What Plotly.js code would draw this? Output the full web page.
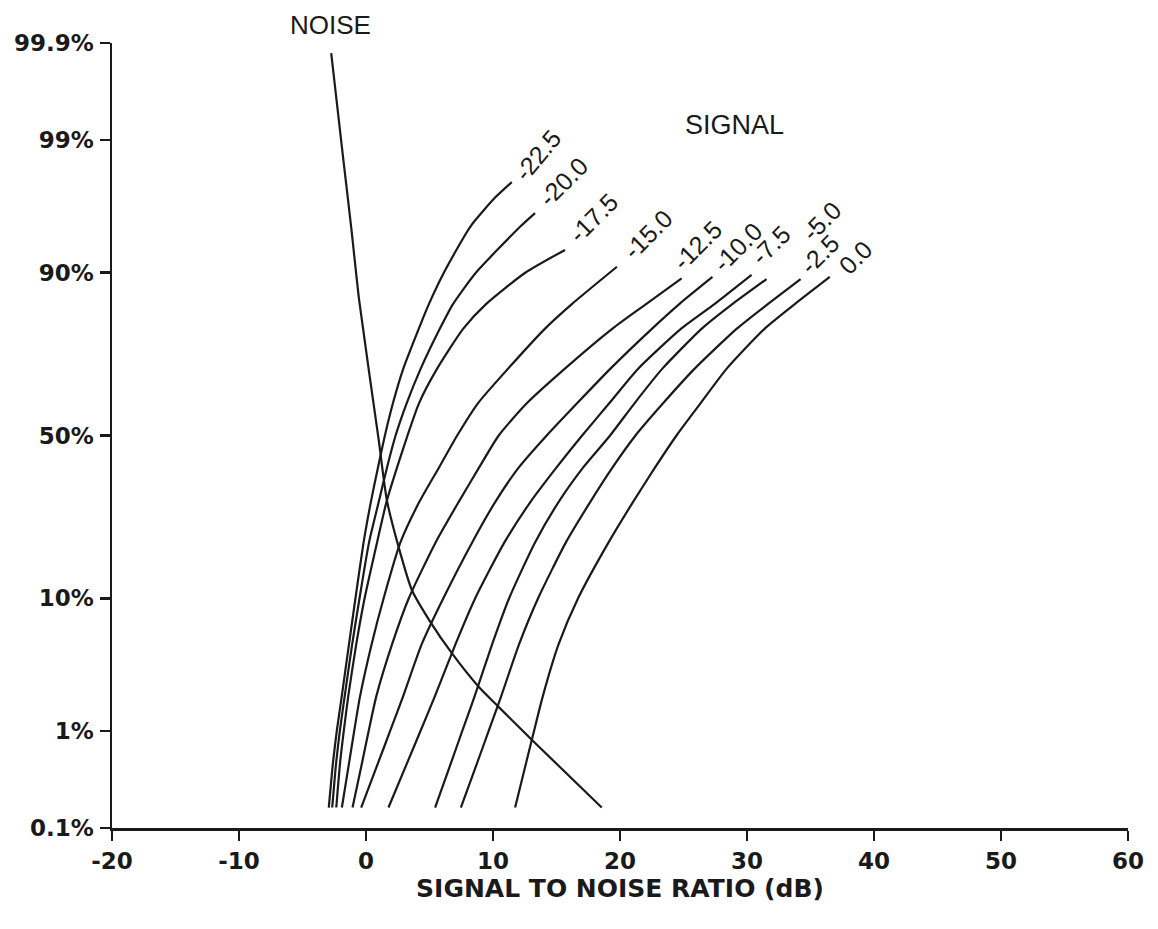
<!DOCTYPE html>
<html>
<head>
<meta charset="utf-8">
<script src="https://cdn.plot.ly/plotly-3.0.1.min.js"></script>
<style>html,body{margin:0;padding:0;background:#fff;}#chart{width:1158px;height:929px;}</style>
</head>
<body>
<div id="chart"></div>
<script>
// ---- data (x in dB, p in percent) ----
const xTickVals = [-20, -10, 0, 10, 20, 30, 40, 50, 60];
const xTickText = ["-20", "-10", "0", "10", "20", "30", "40", "50", "60"];
const yTickPct = [0.1, 1, 10, 50, 90, 99, 99.9];
const yTickText = ["0.1%", "1%", "10%", "50%", "90%", "99%", "99.9%"];

const noiseX = [-2.74, -1.78, -1.14, -0.54, 1.00, 1.64, 2.56, 3.61, 5.05, 6.76, 8.85, 10.42, 13.05, 18.56];
const noiseP = [99.87, 98.49, 94.71, 85.68, 48.6, 30.6, 19.08, 11.20, 7.15, 4.33, 2.41, 1.64, 0.83, 0.17];

const signalLabels = ["-22.5", "-20.0", "-17.5", "-15.0", "-12.5", "-10.0", "-7.5", "-5.0", "-2.5", "0.0"];

const sig225X = [-2.93, -2.60, -2.30, -1.91, -1.34, -0.83, -0.19, 0.38, 0.94, 1.49, 2.12, 2.93, 4.16, 4.96, 6.13, 8.22, 10.24, 11.48];
const sig225P = [0.17, 0.5, 1, 2, 5, 10, 20, 30, 40, 50, 60, 70, 80, 85, 90, 95, 97, 97.7];
const sig200X = [-2.66, -2.35, -2.06, -1.68, -1.09, -0.51, 0.24, 1.00, 1.65, 2.33, 3.20, 4.30, 5.82, 6.86, 8.65, 12.15, 13.31];
const sig200P = [0.17, 0.5, 1, 2, 5, 10, 20, 30, 40, 50, 60, 70, 80, 85, 90, 95, 96.0];
const sig175X = [-2.34, -2.04, -1.75, -1.40, -0.77, -0.11, 0.87, 1.61, 2.44, 3.27, 4.17, 5.59, 7.66, 9.47, 12.54, 15.67];
const sig175P = [0.17, 0.5, 1, 2, 5, 10, 20, 30, 40, 50, 60, 70, 80, 85, 90, 92.8];
const sig150X = [-1.90, -1.33, -0.93, -0.47, 0.44, 1.39, 2.71, 4.19, 5.74, 7.18, 8.81, 11.17, 14.10, 16.23, 19.76];
const sig150P = [0.17, 0.5, 1, 2, 5, 10, 20, 30, 40, 50, 60, 70, 80, 85, 90.8];
const sig125X = [-1.06, -0.31, 0.21, 0.81, 2.05, 3.37, 5.48, 7.29, 8.90, 10.45, 12.66, 15.64, 19.41, 22.08, 24.85];
const sig125P = [0.17, 0.5, 1, 2, 5, 10, 20, 30, 40, 50, 60, 70, 80, 85, 89.2];
const sig100X = [-0.38, 0.96, 1.90, 2.92, 4.38, 6.09, 8.36, 10.17, 12.02, 14.23, 16.62, 19.23, 22.53, 24.69, 27.28];
const sig100P = [0.17, 0.5, 1, 2, 5, 10, 20, 30, 40, 50, 60, 70, 80, 85, 89.4];
const sig075X = [1.77, 3.25, 4.29, 5.42, 7.04, 8.60, 10.90, 12.94, 14.99, 17.02, 19.15, 21.41, 24.82, 27.46, 30.36];
const sig075P = [0.17, 0.5, 1, 2, 5, 10, 20, 30, 40, 50, 60, 70, 80, 85, 89.7];
const sig050X = [5.44, 6.70, 7.58, 8.55, 9.93, 11.27, 13.31, 15.16, 17.09, 19.22, 21.14, 23.32, 26.44, 28.87, 31.54];
const sig050P = [0.17, 0.5, 1, 2, 5, 10, 20, 30, 40, 50, 60, 70, 80, 85, 89.1];
const sig025X = [7.47, 8.76, 9.66, 10.64, 12.05, 13.55, 15.74, 17.65, 19.40, 21.22, 23.39, 25.86, 29.20, 31.66, 34.22];
const sig025P = [0.17, 0.5, 1, 2, 5, 10, 20, 30, 40, 50, 60, 70, 80, 85, 89.1];
const sig000X = [11.74, 12.61, 13.23, 13.92, 15.16, 16.70, 19.10, 21.02, 22.75, 24.45, 26.34, 28.39, 31.40, 33.79, 36.52];
const sig000P = [0.17, 0.5, 1, 2, 5, 10, 20, 30, 40, 50, 60, 70, 80, 85, 89.4];

const signalX = [sig225X, sig200X, sig175X, sig150X, sig125X, sig100X, sig075X, sig050X, sig025X, sig000X];
const signalP = [sig225P, sig200P, sig175P, sig150P, sig125P, sig100P, sig075P, sig050P, sig025P, sig000P];

// label offsets (px) from each curve's end point
const labelShift = [[26, 27], [28, 31], [28, 32], [31, 33], [16, 33], [25, 30], [19, 30], [55, 58], [19, 25], [26, 20]];

// ---- normal-probability axis transform (percent -> probit) ----
function probit(pct) {
  const p = pct / 100;
  const a = [-3.969683028665376e+01, 2.209460984245205e+02, -2.759285104469687e+02, 1.383577518672690e+02, -3.066479806614716e+01, 2.506628277459239e+00];
  const b = [-5.447609879822406e+01, 1.615858368580409e+02, -1.556989798598866e+02, 6.680131188771972e+01, -1.328068155288572e+01];
  const c = [-7.784894002430293e-03, -3.223964580411365e-01, -2.400758277161838e+00, -2.549732539343734e+00, 4.374664141464968e+00, 2.938163982698783e+00];
  const d = [7.784695709041462e-03, 3.224671290700398e-01, 2.445134137142996e+00, 3.754408661907416e+00];
  const pl = 0.02425, ph = 1 - pl;
  let q, r;
  if (p < pl) {
    q = Math.sqrt(-2 * Math.log(p));
    return (((((c[0]*q+c[1])*q+c[2])*q+c[3])*q+c[4])*q+c[5]) / ((((d[0]*q+d[1])*q+d[2])*q+d[3])*q+1);
  } else if (p <= ph) {
    q = p - 0.5; r = q * q;
    return (((((a[0]*r+a[1])*r+a[2])*r+a[3])*r+a[4])*r+a[5])*q / (((((b[0]*r+b[1])*r+b[2])*r+b[3])*r+b[4])*r+1);
  } else {
    q = Math.sqrt(-2 * Math.log(1 - p));
    return -(((((c[0]*q+c[1])*q+c[2])*q+c[3])*q+c[4])*q+c[5]) / ((((d[0]*q+d[1])*q+d[2])*q+d[3])*q+1);
  }
}

const lineStyle = {color: '#1a1a1a', width: 2.2, shape: 'spline', smoothing: 0.6};

const traces = [];
traces.push({x: noiseX, y: noiseP.map(probit), mode: 'lines', line: lineStyle, name: 'NOISE', hoverinfo: 'skip'});
signalX.forEach((xs, i) => {
  traces.push({x: xs, y: signalP[i].map(probit), mode: 'lines', line: lineStyle, name: signalLabels[i], hoverinfo: 'skip'});
});

const labelFont = {family: 'Liberation Sans, Arial, sans-serif', size: 25, color: '#1a1a1a'};
const annotations = [];
signalLabels.forEach((lab, i) => {
  const xs = signalX[i], ps = signalP[i];
  annotations.push({
    x: xs[xs.length - 1], y: probit(ps[ps.length - 1]), xref: 'x', yref: 'y',
    text: lab, showarrow: false, textangle: i === 0 ? -50 : -45,
    xanchor: 'center', yanchor: 'middle',
    xshift: labelShift[i][0], yshift: labelShift[i][1],
    font: labelFont
  });
});
annotations.push({
  x: noiseX[0], y: probit(noiseP[0]), xref: 'x', yref: 'y', text: 'NOISE', showarrow: false,
  xanchor: 'center', yanchor: 'middle', xshift: -1, yshift: 28,
  font: {family: 'Liberation Sans, Arial, sans-serif', size: 26, color: '#1a1a1a'}
});
annotations.push({
  x: 29.05, y: probit(99.27), xref: 'x', yref: 'y', text: 'SIGNAL', showarrow: false,
  xanchor: 'center', yanchor: 'middle',
  font: {family: 'Liberation Sans, Arial, sans-serif', size: 27, color: '#1a1a1a'}
});

const tickFont = {family: 'DejaVu Sans, sans-serif', size: 23, color: '#1a1a1a', weight: 'bold'};

const layout = {
  width: 1158, height: 929,
  margin: {l: 112, r: 30, t: 43, b: 101, pad: 0},
  paper_bgcolor: '#ffffff', plot_bgcolor: '#ffffff',
  showlegend: false,
  xaxis: {
    range: [-20, 60], tickvals: xTickVals, ticktext: xTickText,
    showgrid: false, zeroline: false, showline: true, linecolor: '#1a1a1a', linewidth: 2.5,
    ticks: 'outside', ticklen: 10, tickwidth: 2.5, tickcolor: '#1a1a1a',
    ticklabelstandoff: 1,
    tickfont: tickFont,
    title: {text: 'SIGNAL TO NOISE RATIO (dB)', standoff: 0,
            font: {family: 'DejaVu Sans, sans-serif', size: 25, color: '#1a1a1a', weight: 'bold'}},
    fixedrange: true
  },
  yaxis: {
    range: [probit(0.1), probit(99.9)], tickvals: yTickPct.map(probit), ticktext: yTickText,
    showgrid: false, zeroline: false, showline: true, linecolor: '#1a1a1a', linewidth: 2.5,
    ticks: 'outside', ticklen: 10, tickwidth: 2.5, tickcolor: '#1a1a1a',
    ticklabelstandoff: 1,
    tickfont: tickFont,
    fixedrange: true
  },
  annotations: annotations
};

Plotly.newPlot('chart', traces, layout, {displayModeBar: false, staticPlot: true});
</script>
</body>
</html>
